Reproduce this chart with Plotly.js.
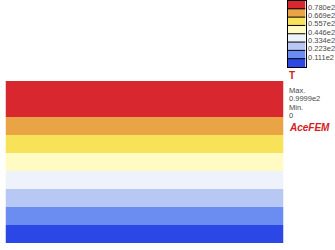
<!DOCTYPE html>
<html>
<head>
<meta charset="utf-8">
<script src="https://cdn.plot.ly/plotly-3.0.1.min.js"></script>
<style>html,body{margin:0;padding:0;background:#fff;}#chart{width:335px;height:250px;}</style>
</head>
<body>
<div id="chart"></div>
<script>
// Contour levels (legend tick labels) and band colours, low to high
var levelValues = [0, 11.1, 22.3, 33.4, 44.6, 55.7, 66.9, 78.0, 99.99];
var levelLabels = ["0.111e2", "0.223e2", "0.334e2", "0.446e2", "0.557e2", "0.669e2", "0.780e2"];
var bandColors = ["#2b48e6", "#6b8cf0", "#b8c8f4", "#eef2fb", "#fffbc2", "#f7e25a", "#e8a445", "#d9272f"];

// Temperature of each mesh layer, bottom to top
var layerY = [0.5, 1.5, 2.5, 3.5, 4.5, 5.5, 6.5, 7.5, 8.5];
var layerT = [5.6, 16.7, 27.8, 38.9, 50.0, 61.1, 72.2, 83.3, 94.4];

var maxT = "0.9999e2";
var minT = "0";

var zmin = levelValues[0], zmax = levelValues[levelValues.length - 1];
function steppedScale(levels, colors) {
  var cs = [];
  for (var i = 0; i < colors.length; i++) {
    var a = (levels[i] - zmin) / (zmax - zmin);
    var b = (levels[i + 1] - zmin) / (zmax - zmin);
    cs.push([a, colors[i]]);
    cs.push([b, colors[i]]);
  }
  return cs;
}
var mainScale = steppedScale(levelValues, bandColors);

var legendZ = [], legendY = [];
for (var i = 0; i < bandColors.length; i++) { legendZ.push([i]); legendY.push(i); }
var legendScale = [];
for (var j = 0; j < bandColors.length; j++) {
  legendScale.push([j / bandColors.length, bandColors[j]]);
  legendScale.push([(j + 1) / bandColors.length, bandColors[j]]);
}

var traces = [
  {
    type: "heatmap",
    x: [0.5],
    y: layerY,
    z: layerT.map(function (t) { return [t]; }),
    colorscale: mainScale,
    zmin: zmin, zmax: zmax,
    showscale: false,
    hoverinfo: "skip",
    xaxis: "x", yaxis: "y"
  },
  {
    type: "heatmap",
    x: [0],
    y: legendY,
    z: legendZ,
    colorscale: legendScale,
    zmin: -0.5, zmax: bandColors.length - 0.5,
    showscale: false,
    hoverinfo: "skip",
    xaxis: "x2", yaxis: "y2"
  }
];

var W = 335, H = 250;
function px(x) { return x / W; }
function py(y) { return (H - y) / H; }

var textFont = { family: "Liberation Sans, Arial, sans-serif", size: 7.5, color: "#4a4a4a" };
var annotations = [];
var shapes = [];
for (var k = 0; k < levelLabels.length; k++) {
  annotations.push({
    text: levelLabels[k], xref: "paper", yref: "y2",
    x: px(305.5), y: k + 0.5, xanchor: "left", yanchor: "middle",
    yshift: 1.5, showarrow: false, font: textFont
  });
  shapes.push({
    type: "line", xref: "x2", yref: "y2",
    x0: -0.5, x1: 0.5, y0: k + 0.5, y1: k + 0.5,
    line: { color: "#000", width: 1 }
  });
}
var sideTexts = [
  { t: "<b>T</b>", y: 75, font: { family: "Liberation Sans, Arial, sans-serif", size: 10, color: "#d42020" } },
  { t: "Max.", y: 90.5, font: textFont },
  { t: maxT, y: 98.5, font: textFont },
  { t: "Min.", y: 107.5, font: textFont },
  { t: minT, y: 115.5, font: textFont },
  { t: "<b><i>AceFEM</i></b>", y: 127, font: { family: "Liberation Sans, Arial, sans-serif", size: 10, color: "#d42020" } }
];
sideTexts.forEach(function (s) {
  annotations.push({
    text: s.t, xref: "paper", yref: "paper", x: px(287), y: py(s.y),
    xanchor: "left", yanchor: "middle", showarrow: false, font: s.font
  });
});

var hidden = { showgrid: false, zeroline: false, showticklabels: false, ticks: "", fixedrange: true };
var layout = {
  width: W, height: H,
  margin: { l: 0, r: 0, t: 0, b: 0, pad: 0 },
  paper_bgcolor: "#ffffff",
  plot_bgcolor: "#ffffff",
  showlegend: false,
  xaxis: Object.assign({}, hidden, { domain: [px(5.5), px(283.5)], range: [0, 1], showline: false }),
  yaxis: Object.assign({}, hidden, { domain: [py(243.3), py(81)], range: [0, 9], showline: false }),
  xaxis2: Object.assign({}, hidden, { domain: [px(287.5), px(305.5)], range: [-0.5, 0.5], showline: true, mirror: true, linecolor: "#000", linewidth: 1, anchor: "y2" }),
  yaxis2: Object.assign({}, hidden, { domain: [py(67), py(0.5)], range: [-0.5, bandColors.length - 0.5], showline: true, mirror: true, linecolor: "#000", linewidth: 1, anchor: "x2" }),
  shapes: shapes,
  annotations: annotations
};

Plotly.newPlot("chart", traces, layout, { displayModeBar: false, staticPlot: true });
</script>
</body>
</html>
